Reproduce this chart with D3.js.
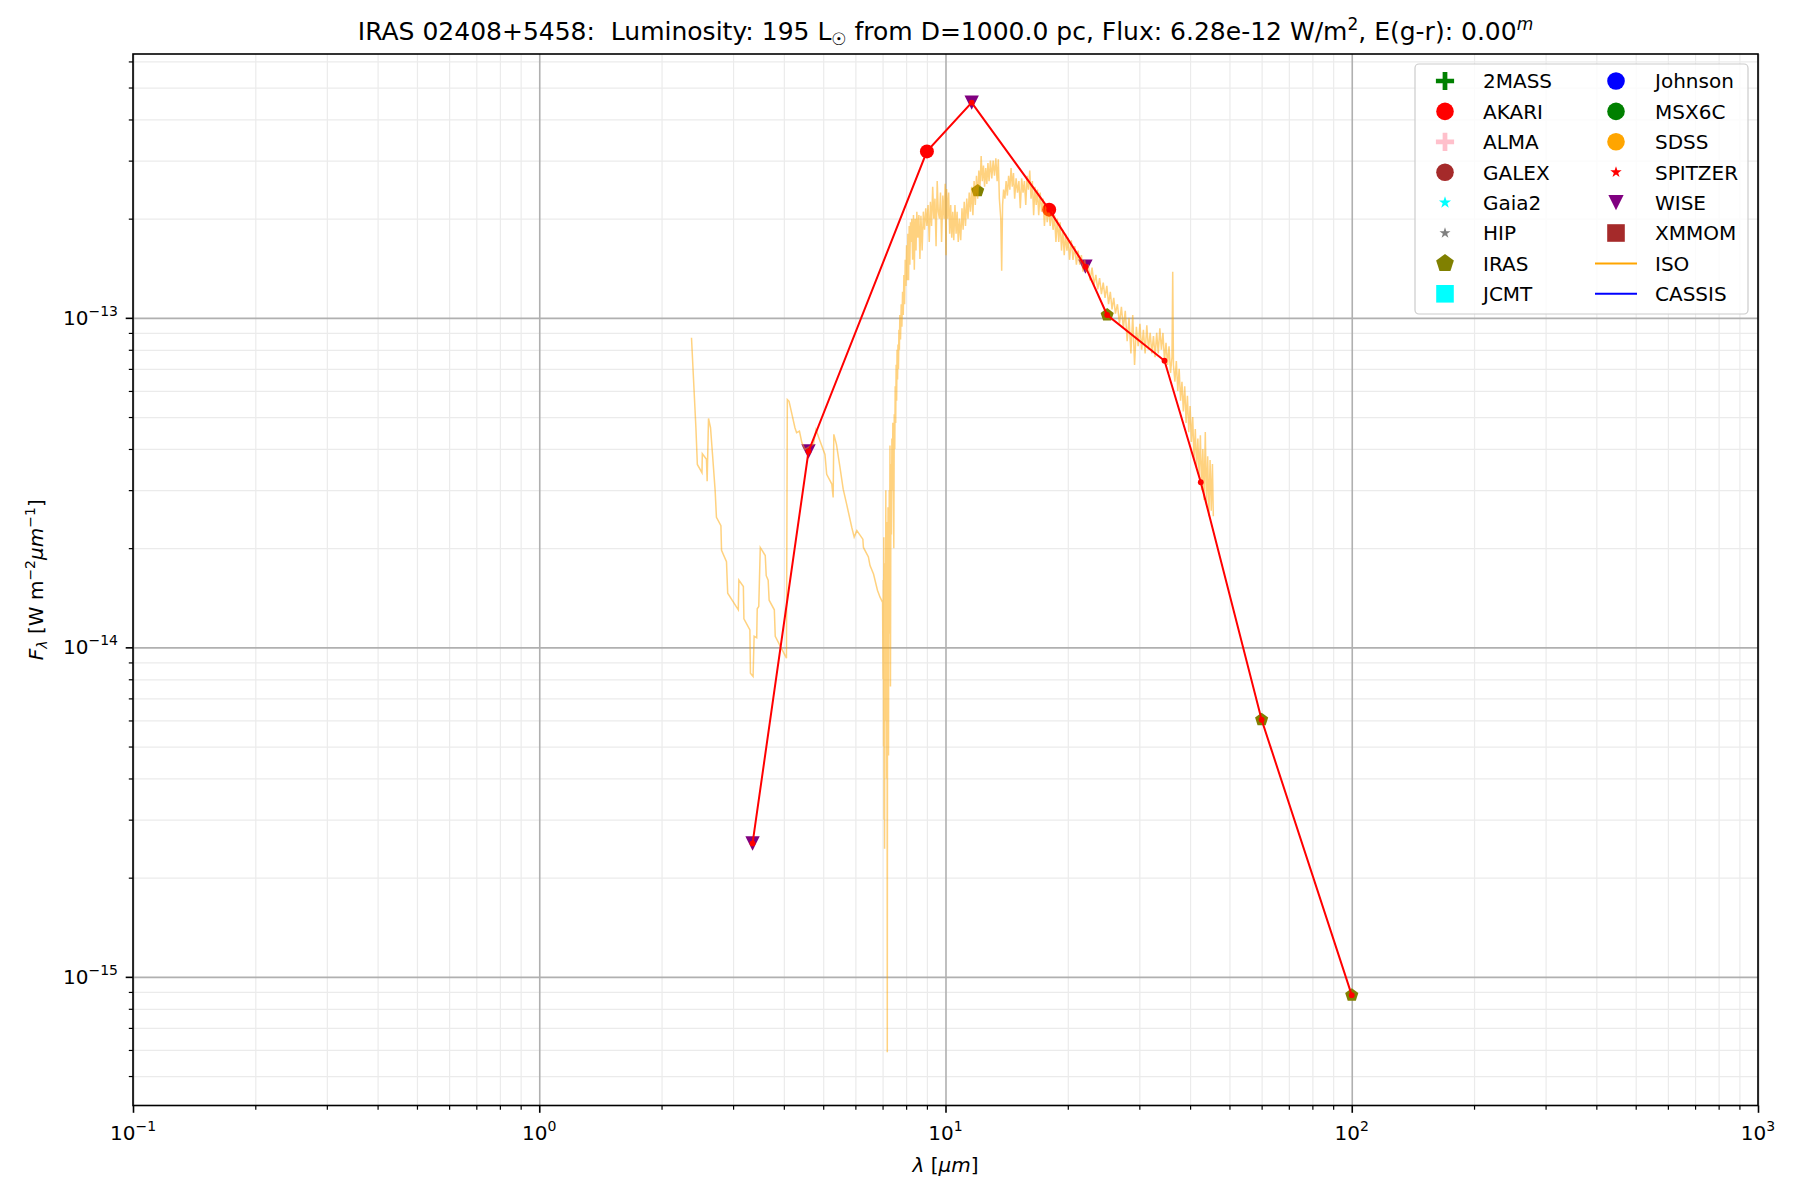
<!DOCTYPE html>
<html>
<head>
<meta charset="utf-8">
<script src="https://cdn.jsdelivr.net/npm/d3@7"></script>
<style>
  body { margin: 0; background: #fff; }
  text { font-family: "DejaVu Sans", sans-serif; fill: #000; white-space: pre; }
</style>
</head>
<body>
<div id="graph"></div>
<script>
// ---- data ----
var TITLE_MAIN = "IRAS 02408+5458:  Luminosity: 195 L";
var TITLE_REST = " from D=1000.0 pc, Flux: 6.28e-12 W/m";
var TITLE_TAIL = ", E(g-r): 0.00";

var xTickExps = [-1, 0, 1, 2, 3];
var yTickExps = [-15, -14, -13];

var legendCol1 = ["2MASS", "AKARI", "ALMA", "GALEX", "Gaia2", "HIP", "IRAS", "JCMT"];
var legendCol2 = ["Johnson", "MSX6C", "SDSS", "SPITZER", "WISE", "XMMOM", "ISO", "CASSIS"];

// [wavelength um, F_lambda W m^-2 um^-1]
var wisePoints  = [[3.35, 2.54e-15], [4.6, 3.93e-14], [11.6, 4.50e-13], [22.1, 1.43e-13]];
var akariPoints = [[9.0, 3.20e-13], [18.0, 2.13e-13]];
var irasPoints  = [[12, 2.43e-13], [25, 1.02e-13], [60, 6.03e-15], [100, 8.80e-16]];

var sedLine = [[3.35, 2.54e-15], [4.6, 3.93e-14], [9.0, 3.20e-13], [11.6, 4.50e-13],
               [18.0, 2.13e-13], [22.1, 1.43e-13], [25, 1.02e-13], [34.6, 7.41e-14],
               [42.5, 3.17e-14], [60, 6.03e-15], [100, 8.80e-16]];

var isoSpectrum = [
  [2.37, 8.7e-14], [2.43, 4.64e-14], [2.45, 3.59e-14], [2.515, 3.39e-14], [2.52, 3.87e-14],
  [2.58, 3.72e-14], [2.59, 3.19e-14], [2.61, 4.95e-14], [2.64, 4.64e-14], [2.67, 3.85e-14],
  [2.71, 2.99e-14], [2.73, 2.48e-14], [2.80, 2.34e-14], [2.81, 1.97e-14], [2.89, 1.82e-14],
  [2.91, 1.46e-14], [3.09, 1.30e-14], [3.10, 1.60e-14], [3.18, 1.53e-14], [3.19, 1.22e-14],
  [3.30, 1.13e-14], [3.31, 8.35e-15], [3.36, 8.16e-15], [3.38, 1.08e-14], [3.43, 1.07e-14],
  [3.44, 1.31e-14], [3.47, 1.33e-14], [3.50, 2.01e-14], [3.60, 1.90e-14], [3.62, 1.65e-14],
  [3.66, 1.60e-14], [3.68, 1.39e-14], [3.79, 1.30e-14], [3.81, 1.08e-14], [4.06, 9.27e-15],
  [4.08, 5.65e-14], [4.12, 5.58e-14], [4.26, 4.64e-14], [4.30, 4.48e-14], [4.37, 4.53e-14],
  [4.43, 4.18e-14], [4.51, 3.99e-14], [4.73, 4.13e-14], [4.80, 4.58e-14], [4.91, 4.23e-14],
  [5.05, 3.85e-14], [5.10, 3.35e-14], [5.25, 3.13e-14], [5.29, 2.85e-14], [5.31, 4.43e-14],
  [5.39, 4.13e-14], [5.50, 3.51e-14], [5.60, 3.02e-14], [5.71, 2.72e-14], [5.88, 2.31e-14],
  [5.96, 2.16e-14], [6.05, 2.26e-14], [6.26, 2.13e-14], [6.28, 2.01e-14], [6.46, 1.88e-14],
  [6.52, 1.77e-14], [6.65, 1.67e-14], [6.80, 1.49e-14], [6.90, 1.42e-14], [7.00, 1.37e-14],
  [7.02, 8.0e-15], [7.03, 1.6e-14], [7.04, 5.0e-15], [7.05, 2.16e-14], [7.06, 3.0e-15],
  [7.07, 1.3e-14], [7.08, 2.45e-15], [7.09, 1.8e-14], [7.10, 6.0e-15], [7.11, 1.42e-14],
  [7.12, 9.4e-15], [7.13, 3.0e-14], [7.14, 7.1e-15], [7.15, 1.9e-14], [7.16, 4.0e-15],
  [7.17, 2.4e-14], [7.18, 1.2e-14], [7.19, 5.9e-16], [7.20, 1.24e-14], [7.21, 8.0e-15],
  [7.22, 2.66e-14], [7.23, 1.0e-14], [7.24, 4.7e-15], [7.25, 1.8e-14], [7.26, 1.1e-14],
  [7.27, 3.0e-14], [7.28, 1.3e-14], [7.30, 4.1e-14], [7.31, 1.6e-14], [7.32, 7.6e-15],
  [7.34, 3.6e-14], [7.36, 2.2e-14], [7.38, 4.3e-14], [7.40, 3.0e-14], [7.42, 4.8e-14],
  [7.44, 3.3e-14], [7.46, 2.0e-14], [7.48, 5.1e-14], [7.50, 4.0e-14], [7.52, 6.2e-14],
  [7.54, 4.8e-14], [7.56, 7.2e-14], [7.58, 5.6e-14], [7.60, 8.0e-14], [7.62, 6.5e-14],
  [7.64, 8.3e-14], [7.66, 7.0e-14], [7.68, 9.2e-14], [7.70, 8.0e-14], [7.72, 1.02e-13],
  [7.75, 8.6e-14], [7.78, 1.1e-13], [7.81, 9.4e-14], [7.84, 1.2e-13], [7.87, 1.02e-13],
  [7.90, 1.35e-13], [7.93, 1.1e-13], [7.96, 1.5e-13], [7.99, 1.25e-13], [8.02, 1.66e-13],
  [8.05, 1.3e-13], [8.08, 1.8e-13], [8.11, 1.3e-13], [8.14, 1.9e-13], [8.17, 1.45e-13],
  [8.20, 1.95e-13], [8.23, 1.7e-13], [8.26, 2.0e-13], [8.30, 1.5e-13], [8.34, 2.05e-13],
  [8.38, 1.4e-13], [8.42, 2.0e-13], [8.46, 1.6e-13], [8.50, 2.1e-13], [8.55, 1.75e-13],
  [8.60, 2.05e-13], [8.65, 1.51e-13], [8.70, 2.04e-13], [8.76, 1.6e-13], [8.82, 2.1e-13],
  [8.88, 1.85e-13], [8.94, 2.15e-13], [9.00, 1.9e-13], [9.06, 2.2e-13], [9.12, 1.7e-13],
  [9.18, 2.25e-13], [9.24, 1.9e-13], [9.30, 2.5e-13], [9.36, 2.0e-13], [9.42, 2.3e-13],
  [9.48, 1.65e-13], [9.54, 2.6e-13], [9.60, 2.1e-13], [9.66, 2.0e-13], [9.72, 2.4e-13],
  [9.78, 1.7e-13], [9.85, 2.35e-13], [9.92, 2.0e-13], [9.98, 2.55e-13], [10.03, 1.55e-13],
  [10.06, 2.46e-13], [10.12, 2.0e-13], [10.18, 2.4e-13], [10.24, 1.8e-13], [10.30, 2.2e-13],
  [10.36, 1.75e-13], [10.42, 2.1e-13], [10.48, 1.72e-13], [10.55, 2.2e-13], [10.62, 1.8e-13],
  [10.68, 2.1e-13], [10.75, 1.7e-13], [10.82, 2.0e-13], [10.90, 1.72e-13], [10.98, 2.15e-13],
  [11.05, 1.85e-13], [11.12, 2.25e-13], [11.20, 1.9e-13], [11.28, 2.3e-13], [11.36, 2.0e-13],
  [11.44, 2.4e-13], [11.52, 2.1e-13], [11.60, 2.5e-13], [11.68, 2.05e-13], [11.76, 2.6e-13],
  [11.84, 2.2e-13], [11.92, 2.7e-13], [12.00, 2.3e-13], [12.08, 2.8e-13], [12.16, 2.5e-13],
  [12.24, 3.1e-13], [12.32, 2.6e-13], [12.40, 2.9e-13], [12.48, 2.5e-13], [12.56, 2.85e-13],
  [12.64, 2.55e-13], [12.72, 2.95e-13], [12.80, 2.6e-13], [12.90, 3.0e-13], [13.00, 2.65e-13],
  [13.10, 3.0e-13], [13.20, 2.7e-13], [13.30, 3.05e-13], [13.40, 2.6e-13], [13.49, 3.03e-13],
  [13.57, 2.3e-13], [13.68, 2.0e-13], [13.75, 1.39e-13], [13.82, 2.2e-13], [13.90, 2.45e-13],
  [14.00, 2.3e-13], [14.10, 2.6e-13], [14.20, 2.35e-13], [14.30, 2.7e-13], [14.40, 2.45e-13],
  [14.50, 2.85e-13], [14.60, 2.5e-13], [14.70, 2.75e-13], [14.80, 2.3e-13], [14.92, 2.65e-13],
  [15.04, 2.4e-13], [15.16, 2.6e-13], [15.28, 2.15e-13], [15.40, 2.65e-13], [15.52, 2.4e-13],
  [15.64, 2.6e-13], [15.76, 2.2e-13], [15.88, 2.7e-13], [16.00, 2.45e-13], [16.12, 2.8e-13],
  [16.24, 2.3e-13], [16.36, 2.6e-13], [16.48, 2.05e-13], [16.60, 2.5e-13], [16.72, 2.2e-13],
  [16.84, 2.45e-13], [16.96, 2.05e-13], [17.10, 2.4e-13], [17.24, 2.1e-13], [17.38, 2.3e-13],
  [17.52, 1.9e-13], [17.66, 2.2e-13], [17.80, 1.95e-13], [17.95, 2.15e-13], [18.10, 1.9e-13],
  [18.25, 2.1e-13], [18.40, 1.85e-13], [18.55, 2.05e-13], [18.70, 1.7e-13], [18.85, 2.0e-13],
  [19.00, 1.7e-13], [19.15, 1.95e-13], [19.30, 1.6e-13], [19.45, 1.85e-13], [19.60, 1.55e-13],
  [19.75, 1.8e-13], [19.90, 1.6e-13], [20.05, 1.75e-13], [20.20, 1.5e-13], [20.40, 1.72e-13],
  [20.60, 1.5e-13], [20.80, 1.65e-13], [21.00, 1.45e-13], [21.20, 1.6e-13], [21.40, 1.45e-13],
  [21.60, 1.55e-13], [21.80, 1.38e-13], [22.00, 1.5e-13], [22.20, 1.38e-13], [22.45, 1.45e-13],
  [22.70, 1.3e-13], [22.95, 1.42e-13], [23.20, 1.26e-13], [23.45, 1.35e-13], [23.70, 1.22e-13],
  [23.95, 1.32e-13], [24.20, 1.18e-13], [24.45, 1.28e-13], [24.70, 1.15e-13], [24.95, 1.25e-13],
  [25.20, 1.1e-13], [25.45, 1.2e-13], [25.70, 1.06e-13], [25.95, 1.15e-13], [26.20, 1.03e-13],
  [26.50, 1.1e-13], [26.80, 9.6e-14], [27.10, 1.08e-13], [27.40, 9.3e-14], [27.70, 1.05e-13],
  [28.00, 8.5e-14], [28.30, 1.0e-13], [28.60, 7.8e-14], [28.90, 1.02e-13], [29.20, 7.2e-14],
  [29.50, 9.4e-14], [29.80, 8.2e-14], [30.10, 9.6e-14], [30.40, 8.0e-14], [30.70, 9.2e-14],
  [31.00, 7.8e-14], [31.30, 9.5e-14], [31.60, 8.0e-14], [31.90, 9.0e-14], [32.20, 7.8e-14],
  [32.50, 8.8e-14], [32.80, 7.6e-14], [33.10, 9.0e-14], [33.40, 7.8e-14], [33.70, 9.3e-14],
  [34.00, 8.0e-14], [34.30, 9.0e-14], [34.60, 7.4e-14], [34.90, 8.4e-14], [35.20, 7.2e-14],
  [35.50, 8.2e-14], [35.80, 6.8e-14], [36.10, 7.6e-14], [36.25, 1.38e-13], [36.40, 7.2e-14],
  [36.70, 6.4e-14], [37.00, 7.4e-14], [37.30, 6.0e-14], [37.60, 7.0e-14], [37.90, 5.6e-14],
  [38.20, 6.4e-14], [38.50, 5.2e-14], [38.80, 6.2e-14], [39.10, 4.8e-14], [39.40, 5.8e-14],
  [39.70, 4.5e-14], [40.00, 5.4e-14], [40.30, 4.2e-14], [40.60, 5.0e-14], [40.90, 3.7e-14],
  [41.20, 4.6e-14], [41.50, 3.5e-14], [41.80, 4.3e-14], [42.10, 3.3e-14], [42.40, 4.4e-14],
  [42.70, 3.0e-14], [43.00, 4.0e-14], [43.30, 2.8e-14], [43.60, 4.5e-14], [43.90, 2.7e-14],
  [44.20, 3.8e-14], [44.50, 2.5e-14], [44.80, 3.7e-14], [45.10, 2.6e-14], [45.40, 3.6e-14],
  [45.63, 2.5e-14]
];

// ---- layout / style ----
var WIDTH = 1800, HEIGHT = 1200;
var PLOT_LEFT = 133, PLOT_RIGHT = 1758, PLOT_TOP = 54, PLOT_BOTTOM = 1105.5;
var FONT = 20;

var CATALOG_STYLE = {
  "2MASS":   {shape: "plus",     color: "green",  r: 9.1},
  "AKARI":   {shape: "circle",   color: "red",    r: 8.8},
  "ALMA":    {shape: "plus",     color: "pink",   r: 9.1},
  "GALEX":   {shape: "circle",   color: "brown",  r: 8.8},
  "Gaia2":   {shape: "star",     color: "cyan",   r: 6.4},
  "HIP":     {shape: "star",     color: "gray",   r: 5.8},
  "IRAS":    {shape: "pentagon", color: "olive",  r: 9.3},
  "JCMT":    {shape: "square",   color: "cyan",   r: 8.8},
  "Johnson": {shape: "circle",   color: "blue",   r: 8.8},
  "MSX6C":   {shape: "circle",   color: "green",  r: 8.8},
  "SDSS":    {shape: "circle",   color: "orange", r: 8.8},
  "SPITZER": {shape: "star",     color: "red",    r: 6.0},
  "WISE":    {shape: "tri_down", color: "purple", r: 7.6},
  "XMMOM":   {shape: "square",   color: "brown",  r: 8.8},
  "ISO":     {shape: "line",     color: "orange"},
  "CASSIS":  {shape: "line",     color: "blue"}
};

/**
 * Path string for a matplotlib-like marker of half-size r
 */
function marker_path(shape, r) {
  switch (shape) {
    case "circle":
      return d3.symbol(d3.symbolCircle, Math.PI * r * r)();
    case "square":
      return d3.symbol(d3.symbolSquare, 4 * r * r)();
    case "star":
      return d3.symbol(d3.symbolStar, r * r / 0.8908130915292852)();
    case "plus":
      var t = r * 0.26;
      return `M${-t},${-r}H${t}V${-t}H${r}V${t}H${t}V${r}H${-t}V${t}H${-r}V${-t}H${-t}Z`;
    case "tri_down":
      return `M${-r},${-r}L${r},${-r}L0,${r}Z`;
    case "pentagon":
      var pts = d3.range(5).map(function (k) {
        var a = -Math.PI / 2 + k * 2 * Math.PI / 5;
        return [r * Math.cos(a), r * Math.sin(a)];
      });
      return "M" + pts.join("L") + "Z";
  }
}

/**
 * Appends tspans with sub/superscripts; rise is the baseline shift upwards in px
 */
function rich_text(sel, parts) {
  var rise = 0;
  parts.forEach(function (p) {
    var t = sel.append("tspan").text(p.t);
    var r = p.rise || 0;
    if (r !== rise) t.attr("dy", rise - r);
    rise = r;
    if (p.size) t.attr("font-size", p.size);
    if (p.italic) t.attr("font-style", "italic");
  });
  return sel;
}

function pow_label(e) {
  return [{t: "10"}, {t: (e < 0 ? "\u2212" : "") + Math.abs(e), size: 14, rise: 9}];
}

// ---- scales ----
var xscale = d3.scaleLog().domain([0.1, 1000]).range([PLOT_LEFT, PLOT_RIGHT]);
var yscale = d3.scaleLog().domain([4.07e-16, 6.32e-13]).range([PLOT_BOTTOM, PLOT_TOP]);

var xMajor = xTickExps.map(function (e) { return Math.pow(10, e); });
var yMajor = yTickExps.map(function (e) { return Math.pow(10, e); });
var xMinor = [], yMinor = [];
d3.range(-1, 3).forEach(function (e) {
  d3.range(2, 10).forEach(function (m) { xMinor.push(m * Math.pow(10, e)); });
});
d3.range(-16, -12).forEach(function (e) {
  d3.range(2, 10).forEach(function (m) {
    var v = m * Math.pow(10, e);
    if (v > yscale.domain()[0] && v < yscale.domain()[1]) yMinor.push(v);
  });
});

var chart = d3.select("#graph").append("svg")
  .attr("width", WIDTH).attr("height", HEIGHT);
chart.append("rect").attr("width", WIDTH).attr("height", HEIGHT).attr("fill", "#fff");

var plotH = PLOT_BOTTOM - PLOT_TOP, plotW = PLOT_RIGHT - PLOT_LEFT;

// Grid lines (minor first, then major)
function grid(axis, values, size, color, width, transform) {
  chart.append("g")
    .attr("transform", transform)
    .call(axis.tickValues(values).tickSize(size).tickFormat(""))
    .call(function (g) { g.select(".domain").remove(); })
    .selectAll("line").attr("stroke", color).attr("stroke-width", width);
}
grid(d3.axisBottom(xscale), xMinor, -plotH, "#ebebeb", 1.2, `translate(0,${PLOT_BOTTOM})`);
grid(d3.axisLeft(yscale), yMinor, -plotW, "#ebebeb", 1.2, `translate(${PLOT_LEFT},0)`);
grid(d3.axisBottom(xscale), xMajor, -plotH, "#b0b0b0", 1.6, `translate(0,${PLOT_BOTTOM})`);
grid(d3.axisLeft(yscale), yMajor, -plotW, "#b0b0b0", 1.6, `translate(${PLOT_LEFT},0)`);

var plot = chart.append("g");

// Photometry markers
function plot_points(points, name, r) {
  var st = CATALOG_STYLE[name];
  plot.selectAll(null)
    .data(points)
    .enter()
    .append("path")
    .attr("d", marker_path(st.shape, r))
    .attr("transform", function (d) { return `translate(${xscale(d[0])},${yscale(d[1])})`; })
    .attr("fill", st.color);
}
plot_points(akariPoints, "AKARI", 7);
plot_points(irasPoints, "IRAS", 6.9);
plot_points(wisePoints, "WISE", 7.2);

// ISO spectrum
var line = d3.line()
  .x(function (d) { return xscale(d[0]); })
  .y(function (d) { return yscale(d[1]); });

plot.append("path")
  .datum(isoSpectrum)
  .attr("d", line)
  .attr("fill", "none")
  .attr("stroke", "orange")
  .attr("stroke-opacity", 0.5)
  .attr("stroke-width", 1.5);

// Connecting SED line with small dots
plot.append("path")
  .datum(sedLine)
  .attr("d", line)
  .attr("fill", "none")
  .attr("stroke", "red")
  .attr("stroke-width", 2);

plot.selectAll(null)
  .data(sedLine)
  .enter()
  .append("circle")
  .attr("cx", function (d) { return xscale(d[0]); })
  .attr("cy", function (d) { return yscale(d[1]); })
  .attr("r", 2.9)
  .attr("fill", "red");

// Axes ticks
function ticks(axis, values, size, width, transform) {
  chart.append("g")
    .attr("transform", transform)
    .call(axis.tickValues(values).tickSize(size).tickFormat(""))
    .call(function (g) { g.select(".domain").remove(); })
    .selectAll("line").attr("stroke", "#000").attr("stroke-width", width);
}
ticks(d3.axisBottom(xscale), xMinor, 4.2, 1.2, `translate(0,${PLOT_BOTTOM})`);
ticks(d3.axisLeft(yscale), yMinor, 4.2, 1.2, `translate(${PLOT_LEFT},0)`);
ticks(d3.axisBottom(xscale), xMajor, 7.3, 1.6, `translate(0,${PLOT_BOTTOM})`);
ticks(d3.axisLeft(yscale), yMajor, 7.3, 1.6, `translate(${PLOT_LEFT},0)`);

// Spines
chart.append("rect")
  .attr("x", PLOT_LEFT).attr("y", PLOT_TOP)
  .attr("width", plotW).attr("height", plotH)
  .attr("fill", "none").attr("stroke", "#000").attr("stroke-width", 1.6);

// Tick labels
xTickExps.forEach(function (e) {
  rich_text(chart.append("text")
    .attr("x", xscale(Math.pow(10, e)))
    .attr("y", 1140)
    .attr("text-anchor", "middle")
    .attr("font-size", FONT), pow_label(e));
});
yTickExps.forEach(function (e) {
  rich_text(chart.append("text")
    .attr("x", PLOT_LEFT - 15)
    .attr("y", yscale(Math.pow(10, e)) + 7)
    .attr("text-anchor", "end")
    .attr("font-size", FONT), pow_label(e));
});

// Axis labels
rich_text(chart.append("text")
  .attr("x", (PLOT_LEFT + PLOT_RIGHT) / 2)
  .attr("y", 1172)
  .attr("text-anchor", "middle")
  .attr("font-size", FONT),
  [{t: "\u03bb", italic: true}, {t: " ["}, {t: "\u03bcm", italic: true}, {t: "]"}]);

rich_text(chart.append("text")
  .attr("transform", `translate(43,${(PLOT_TOP + PLOT_BOTTOM) / 2}) rotate(-90)`)
  .attr("text-anchor", "middle")
  .attr("font-size", FONT),
  [{t: "F", italic: true}, {t: "\u03bb", italic: true, size: 14, rise: -4},
   {t: " [W m"}, {t: "\u22122", size: 14, rise: 8},
   {t: "\u03bcm", italic: true}, {t: "\u22121", size: 14, rise: 8}, {t: "]"}]);

// Title
rich_text(chart.append("text")
  .attr("x", (PLOT_LEFT + PLOT_RIGHT) / 2)
  .attr("y", 40)
  .attr("text-anchor", "middle")
  .attr("font-size", 25),
  [{t: TITLE_MAIN}, {t: "\u2609", size: 17, rise: -5},
   {t: TITLE_REST}, {t: "2", size: 17, rise: 10},
   {t: TITLE_TAIL}, {t: "m", size: 17, rise: 10, italic: true}]);

// Legend
var LEG_X = 1415, LEG_Y = 64, LEG_W = 333, LEG_H = 250;
var ROW0 = 81, ROW_STEP = 30.4;
var legend = chart.append("g");
legend.append("rect")
  .attr("x", LEG_X).attr("y", LEG_Y).attr("width", LEG_W).attr("height", LEG_H)
  .attr("rx", 4).attr("fill", "#fff").attr("fill-opacity", 0.8)
  .attr("stroke", "#cccccc").attr("stroke-width", 1.2);

[[legendCol1, 1445, 1483], [legendCol2, 1616, 1655]].forEach(function (col) {
  var rows = legend.selectAll(null)
    .data(col[0])
    .enter()
    .append("g")
    .attr("transform", function (d, i) { return `translate(0,${ROW0 + i * ROW_STEP})`; });

  rows.each(function (name) {
    var st = CATALOG_STYLE[name];
    var g = d3.select(this);
    if (st.shape === "line") {
      g.append("line").attr("x1", col[1] - 21).attr("x2", col[1] + 21)
        .attr("stroke", st.color).attr("stroke-width", 2);
    } else {
      g.append("path").attr("d", marker_path(st.shape, st.r))
        .attr("transform", `translate(${col[1]},0)`).attr("fill", st.color);
    }
  });

  rows.append("text")
    .attr("x", col[2])
    .attr("y", 7.3)
    .attr("font-size", FONT)
    .text(function (d) { return d; });
});
</script>
</body>
</html>
